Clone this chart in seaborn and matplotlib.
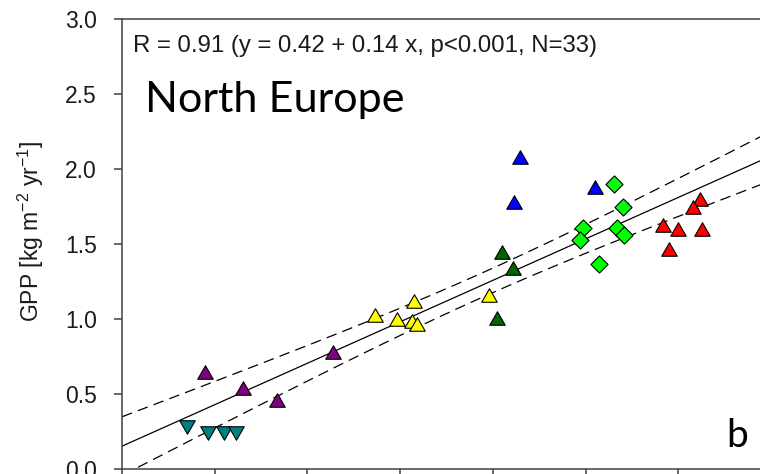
import numpy as np
import pandas as pd
import matplotlib
matplotlib.use("Agg")
import matplotlib.pyplot as plt
from matplotlib.path import Path
import seaborn as sns

# ---- data ----
teal_x = [-0.60, -0.14, 0.19, 0.47]
teal_y = [0.28, 0.24, 0.24, 0.24]
purple_x = [-0.21, 0.60, 1.35, 2.56]
purple_y = [0.65, 0.54, 0.46, 0.78]
yellow_x = [3.46, 3.93, 4.29, 4.25, 4.36, 5.92]
yellow_y = [1.03, 1.00, 1.12, 0.99, 0.97, 1.16]
dkgreen_x = [6.08, 6.19, 6.44]
dkgreen_y = [1.01, 1.45, 1.34]
blue_x = [6.59, 6.46, 8.20]
blue_y = [2.08, 1.78, 1.88]
green_x = [8.61, 8.80, 7.95, 7.88, 8.67, 8.83, 8.30]
green_y = [1.90, 1.75, 1.61, 1.53, 1.61, 1.56, 1.37]
red_x = [10.46, 10.31, 9.68, 10.00, 10.52, 9.80]
red_y = [1.80, 1.75, 1.63, 1.60, 1.60, 1.47]

yticks = [0.0, 0.5, 1.0, 1.5, 2.0, 2.5, 3.0]
xticks = [-2, 0, 2, 4, 6, 8, 10, 12, 14]

stat_text = "R = 0.91 (y = 0.42 + 0.14 x, p<0.001, N=33)"
region_text = "North Europe"
panel_text = "b"
ylabel_text = r"GPP [kg m$^{\mathregular{-2}}$ yr$^{\mathregular{-1}}$]"

groups = [
    ("teal", teal_x, teal_y, "#008080", "down", 125),
    ("purple", purple_x, purple_y, "#800080", "up", 125),
    ("yellow", yellow_x, yellow_y, "#FFFF00", "up", 125),
    ("dkgreen", dkgreen_x, dkgreen_y, "#006400", "up", 125),
    ("blue", blue_x, blue_y, "#0000FF", "up", 125),
    ("green", green_x, green_y, "#00FF00", "D", 76),
    ("red", red_x, red_y, "#FF0000", "up", 125),
]

rows = []
for name, xs, ys, *_ in groups:
    for a, b in zip(xs, ys):
        rows.append({"group": name, "x": a, "y": b})
df = pd.DataFrame(rows)

up_tri = Path([(-1, -0.87), (1, -0.87), (0, 0.87), (-1, -0.87)],
              [Path.MOVETO, Path.LINETO, Path.LINETO, Path.CLOSEPOLY])
down_tri = Path([(-1, 0.87), (1, 0.87), (0, -0.87), (-1, 0.87)],
                [Path.MOVETO, Path.LINETO, Path.LINETO, Path.CLOSEPOLY])
marker_map = {"up": up_tri, "down": down_tri, "D": "D"}

sns.set_style("ticks")
plt.rcParams["font.family"] = ["Liberation Sans", "DejaVu Sans"]

W, H = 760, 474
fig = plt.figure(figsize=(W / 100, H / 100), dpi=100)

x0, x1 = -2, 14
px_per_unit = 46.35
left_px, top_px, bottom_px = 122, 19, 469
ax_w = (x1 - x0) * px_per_unit
ax = fig.add_axes([left_px / W, (H - bottom_px) / H, ax_w / W, (bottom_px - top_px) / H])

# regression + 95% confidence band computed from the data
xa = df["x"].to_numpy()
ya = df["y"].to_numpy()
n = len(xa)
slope, intercept = np.polyfit(xa, ya, 1)
resid = ya - (intercept + slope * xa)
s = np.sqrt(np.sum(resid ** 2) / (n - 2))
sxx = np.sum((xa - xa.mean()) ** 2)
t_crit = 2.0395
xl = np.linspace(x0, x1, 200)
yl = intercept + slope * xl
half = t_crit * s * np.sqrt(1 / n + (xl - xa.mean()) ** 2 / sxx)
line_df = pd.DataFrame({"x": xl, "fit": yl, "lo": yl - half, "hi": yl + half})

sns.lineplot(data=line_df, x="x", y="fit", ax=ax, color="black", lw=0.9, zorder=2)
for col in ["lo", "hi"]:
    sns.lineplot(data=line_df, x="x", y=col, ax=ax, color="black", lw=0.9, zorder=2)
    ax.lines[-1].set_dashes([8.5, 5])

for name, xs, ys, color, mk, size in groups:
    sub = df[df["group"] == name]
    sns.scatterplot(data=sub, x="x", y="y", ax=ax, color=color,
                    marker=marker_map[mk], s=size, edgecolor="black",
                    linewidth=0.8, zorder=3, legend=False)

ax.set_xlim(x0, x1)
ax.set_ylim(0, 3.0)
ax.set_xticks(xticks)
ax.set_yticks(yticks)
ax.set_yticklabels([f"{v:.1f}" for v in yticks])
ax.set_xlabel("")
ax.set_ylabel("")
spine_c = "#404040"
for sp in ax.spines.values():
    sp.set_color(spine_c)
    sp.set_linewidth(1.1)
ax.tick_params(axis="y", direction="out", length=5.5, width=1.1, color=spine_c,
               labelsize=16.5, pad=12.5, labelcolor="#1a1a1a")
ax.tick_params(axis="x", direction="out", length=4, width=1.1, color=spine_c,
               labelbottom=False)

yl_t = fig.text(31 / W, 1 - 231 / H, ylabel_text, rotation=90, ha="center", va="center",
                fontsize=16.5, color="#1a1a1a")

t1 = fig.text(133 / W, 1 - 52 / H, stat_text, ha="left", va="baseline",
              fontsize=17, color="#1a1a1a")
t2 = fig.text(145 / W, 1 - 112 / H, region_text, ha="left", va="baseline",
              fontsize=30, color="black", family=["Lato", "DejaVu Sans"])
t3 = fig.text(726 / W, 1 - 447 / H, panel_text, ha="left", va="baseline",
              fontsize=28, color="black", family=["Lato", "DejaVu Sans"])

# fit text extents to the reference
fig.canvas.draw()
r = fig.canvas.get_renderer()
for t, target in [(t1, 466), (t2, 259)]:
    bb = t.get_window_extent(r)
    t.set_fontsize(t.get_fontsize() * target / bb.width)

fig.savefig("out.png", dpi=100)
